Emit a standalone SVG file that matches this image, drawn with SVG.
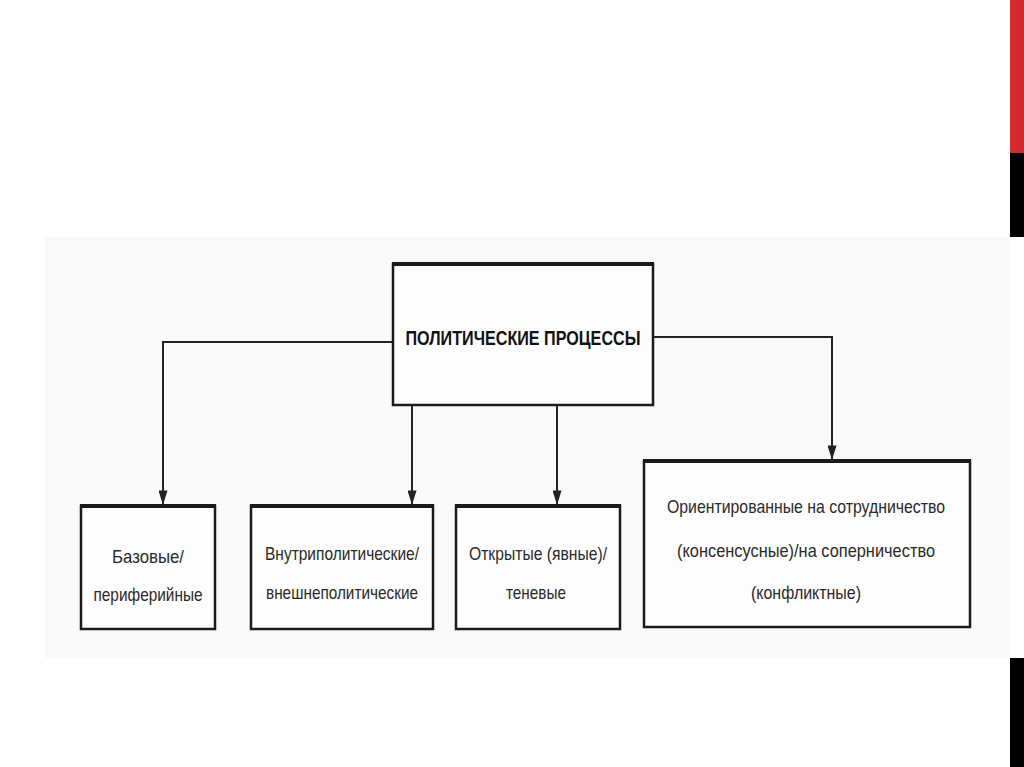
<svg xmlns="http://www.w3.org/2000/svg" width="1024" height="767" viewBox="0 0 1024 767">
<style>
.box{fill:#fdfdfd;stroke:#1a1a1a;stroke-width:2.5}
.top{stroke:#1a1a1a;stroke-width:4}
.lbl{font-family:"Liberation Sans",Arial,sans-serif;font-size:19px;fill:#2a2a2a;text-anchor:middle}
.ttl{font-family:"Liberation Sans",Arial,sans-serif;font-size:20px;font-weight:bold;fill:#111;text-anchor:middle}
.con{fill:none;stroke:#222;stroke-width:2}
</style>
<defs>
<marker id="arrow" viewBox="0 0 16 10" refX="16" refY="5" markerWidth="16" markerHeight="9" orient="auto" markerUnits="userSpaceOnUse">
<path d="M0,0 L16,5 L0,10 z" fill="#222"/>
</marker>
</defs>
<rect x="0" y="0" width="1024" height="767" fill="#ffffff"/>
<rect x="45" y="237" width="965" height="421" fill="#f9f9f9"/>
<rect x="1010" y="0" width="14" height="153" fill="#d42a2e"/>
<rect x="1010" y="153" width="14" height="84" fill="#000"/>
<rect x="1010" y="658" width="14" height="109" fill="#000"/>
<g id="connectors">
<path class="con" d="M393,342 H163 V505" marker-end="url(#arrow)"/>
<path class="con" d="M412,405 V505" marker-end="url(#arrow)"/>
<path class="con" d="M557,405 V505" marker-end="url(#arrow)"/>
<path class="con" d="M653,337 H832 V460" marker-end="url(#arrow)"/>
</g>
<g id="main">
<rect class="box" x="393" y="264" width="260" height="141"/>
<line class="top" x1="392" y1="264" x2="654" y2="264"/>
<text class="ttl" x="523" y="345" textLength="235" lengthAdjust="spacingAndGlyphs">ПОЛИТИЧЕСКИЕ ПРОЦЕССЫ</text>
</g>
<g id="n1">
<rect class="box" x="81" y="506" width="134" height="123"/>
<line class="top" x1="80" y1="506" x2="216" y2="506"/>
<text class="lbl" x="148" y="563" textLength="72" lengthAdjust="spacingAndGlyphs">Базовые/</text>
<text class="lbl" x="148" y="601" textLength="109" lengthAdjust="spacingAndGlyphs">периферийные</text>
</g>
<g id="n2">
<rect class="box" x="251" y="506" width="182" height="123"/>
<line class="top" x1="250" y1="506" x2="434" y2="506"/>
<text class="lbl" x="342" y="560" textLength="154" lengthAdjust="spacingAndGlyphs">Внутриполитические/</text>
<text class="lbl" x="342" y="599" textLength="152" lengthAdjust="spacingAndGlyphs">внешнеполитические</text>
</g>
<g id="n3">
<rect class="box" x="456" y="506" width="164" height="123"/>
<line class="top" x1="455" y1="506" x2="621" y2="506"/>
<text class="lbl" x="538" y="560" textLength="138" lengthAdjust="spacingAndGlyphs">Открытые (явные)/</text>
<text class="lbl" x="536" y="599" textLength="60" lengthAdjust="spacingAndGlyphs">теневые</text>
</g>
<g id="n4">
<rect class="box" x="644" y="461" width="326" height="166"/>
<line class="top" x1="643" y1="461" x2="971" y2="461"/>
<text class="lbl" x="806" y="513" textLength="278" lengthAdjust="spacingAndGlyphs">Ориентированные на сотрудничество</text>
<text class="lbl" x="806" y="557" textLength="258" lengthAdjust="spacingAndGlyphs">(консенсусные)/на соперничество</text>
<text class="lbl" x="806" y="599" textLength="110" lengthAdjust="spacingAndGlyphs">(конфликтные)</text>
</g>
</svg>
